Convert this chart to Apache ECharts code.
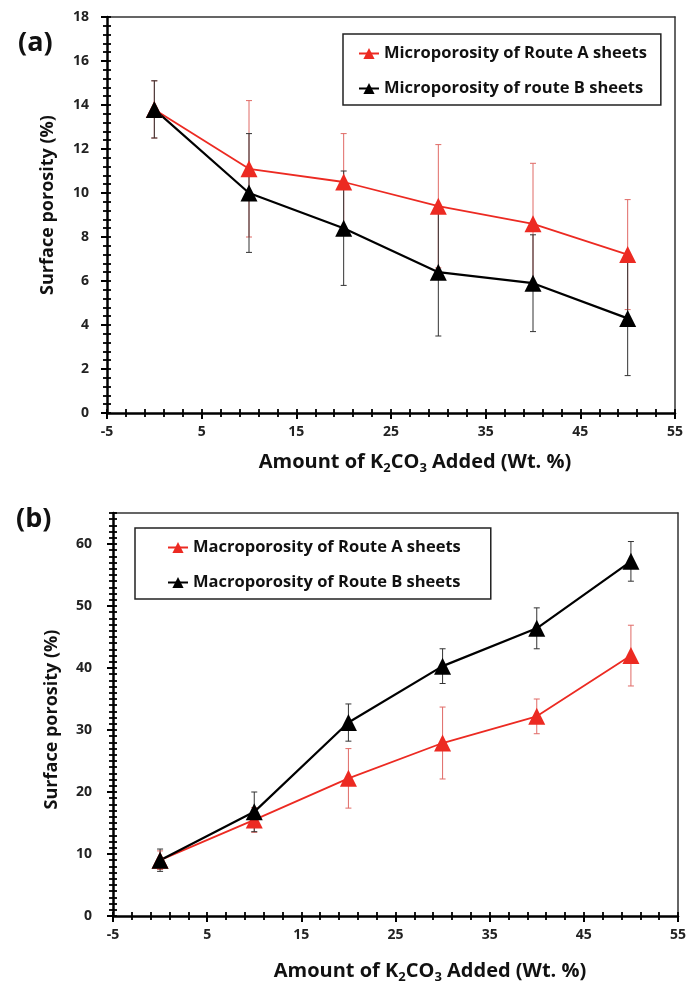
<!DOCTYPE html>
<html>
<head>
<meta charset="utf-8">
<script src="https://cdn.jsdelivr.net/npm/echarts@6/dist/echarts.min.js"></script>
<style>
html,body{margin:0;padding:0;background:#fff;}
#chart{width:686px;height:992px;}
</style>
</head>
<body>
<div id="chart"></div>
<script>
// ---- data ----
const xValues = [0, 10, 20, 30, 40, 50];
const microA = [13.8, 11.1, 10.5, 9.4, 8.6, 7.2];
const microAErr = [1.3, 3.1, 2.2, 2.8, 2.75, 2.5];
const microB = [13.8, 10.0, 8.4, 6.4, 5.9, 4.3];
const microBErr = [1.3, 2.7, 2.6, 2.9, 2.2, 2.6];
const macroA = [9.0, 15.5, 22.2, 27.9, 32.2, 42.0];
const macroAErr = [1.5, 2.0, 4.8, 5.8, 2.8, 4.9];
const macroB = [9.0, 16.8, 31.2, 40.3, 46.4, 57.2];
const macroBErr = [1.8, 3.2, 3.0, 2.8, 3.3, 3.2];
const namesA = ['Microporosity of Route A sheets', 'Microporosity of route B sheets'];
const namesB = ['Macroporosity of Route A sheets', 'Macroporosity of Route B sheets'];
const panelLabels = ['(a)', '(b)'];
const yTitle = 'Surface porosity (%)';

const FONT = 'Open Sans';
const RED = '#ec2a22';
const BLACK = '#000000';

function pts(vals) { return xValues.map((x, i) => [x, vals[i]]); }
function errs(vals, e) { return xValues.map((x, i) => [x, vals[i] - e[i], vals[i] + e[i]]); }

function errSeries(data, color, xi, yi) {
  return {
    type: 'custom', xAxisIndex: xi, yAxisIndex: yi, z: 1, silent: true,
    data: data, encode: { x: 0, y: [1, 2] },
    renderItem: function (params, api) {
      const x = api.value(0), lo = api.value(1), hi = api.value(2);
      const p1 = api.coord([x, hi]), p2 = api.coord([x, lo]);
      const hw = 3;
      const st = { stroke: color, lineWidth: 1 };
      return { type: 'group', children: [
        { type: 'line', shape: { x1: p1[0], y1: p1[1], x2: p2[0], y2: p2[1] }, style: st },
        { type: 'line', shape: { x1: p1[0] - hw, y1: p1[1], x2: p1[0] + hw, y2: p1[1] }, style: st },
        { type: 'line', shape: { x1: p2[0] - hw, y1: p2[1], x2: p2[0] + hw, y2: p2[1] }, style: st }
      ]};
    }
  };
}
function lineSeries(name, vals, color, xi, yi, w) {
  return {
    type: 'line', name: name, xAxisIndex: xi, yAxisIndex: yi, z: 3,
    data: pts(vals), symbol: 'triangle', symbolSize: 17,
    itemStyle: { color: color }, lineStyle: { color: color, width: w },
    emphasis: { disabled: true }, animation: false
  };
}

const xName = '{a|Amount of K}{s|2}{a|CO}{s|3}{a| Added (Wt. %)}';
const xNameRich = {
  a: { fontFamily: FONT, fontSize: 20, fontWeight: 'bold', color: '#111', lineHeight: 26 },
  s: { fontFamily: FONT, fontSize: 13, fontWeight: 'bold', color: '#111', verticalAlign: 'bottom', lineHeight: 26 }
};
const labelStyle = { fontFamily: FONT, fontSize: 14, fontWeight: 'bold', color: '#222' };

function mainX(gi, nameGap, namePadLeft) {
  return {
    type: 'value', gridIndex: gi, min: -5, max: 55, interval: 10, position: 'bottom', z: 5,
    axisLine: { show: true, onZero: false, lineStyle: { color: '#000', width: 2.5 } },
    axisTick: { show: true, inside: false, length: 6, lineStyle: { color: '#000', width: 2 } },
    axisLabel: Object.assign({ margin: 12 }, labelStyle),
    splitLine: { show: false },
    name: xName, nameLocation: 'middle', nameGap: nameGap,
    nameTextStyle: { rich: xNameRich, padding: [0, 0, 0, namePadLeft] }
  };
}
function minorX(gi) {
  return {
    type: 'value', gridIndex: gi, min: -5, max: 55, interval: 2, offset: -4, position: 'bottom', z: 6,
    axisLine: { show: false, onZero: false }, axisLabel: { show: false }, splitLine: { show: false },
    axisTick: { show: true, inside: false, length: 8, lineStyle: { color: '#000', width: 1.8 } }
  };
}
function borderX(gi) {
  return {
    type: 'value', gridIndex: gi, min: -5, max: 55, position: 'top', z: 4,
    axisLine: { show: true, onZero: false, lineStyle: { color: '#333', width: 1.5 } },
    axisTick: { show: false }, axisLabel: { show: false }, splitLine: { show: false }
  };
}
function mainY(gi, max, interval, nameGap, pad, labelMargin, fs) {
  return {
    type: 'value', gridIndex: gi, min: 0, max: max, interval: interval, position: 'left', z: 5,
    axisLine: { show: true, onZero: false, lineStyle: { color: '#000', width: 2.5 } },
    axisTick: { show: true, inside: false, length: 6, lineStyle: { color: '#000', width: 2 } },
    axisLabel: Object.assign({ margin: labelMargin, showMaxLabel: max % interval === 0 }, labelStyle),
    splitLine: { show: false },
    name: yTitle, nameLocation: 'middle', nameGap: nameGap,
    nameTextStyle: { fontFamily: FONT, fontSize: fs, fontWeight: 'bold', color: '#111', padding: pad }
  };
}
function minorY(gi, max, interval) {
  return {
    type: 'value', gridIndex: gi, min: 0, max: max, interval: interval, offset: -4, position: 'left', z: 6,
    axisLine: { show: false, onZero: false }, axisLabel: { show: false }, splitLine: { show: false },
    axisTick: { show: true, inside: false, length: 8, lineStyle: { color: '#000', width: 1.8 } }
  };
}
function borderY(gi, max) {
  return {
    type: 'value', gridIndex: gi, min: 0, max: max, position: 'right', z: 4,
    axisLine: { show: true, onZero: false, lineStyle: { color: '#333', width: 1.5 } },
    axisTick: { show: false }, axisLabel: { show: false }, splitLine: { show: false }
  };
}

const gridA = { left: 107, top: 17, width: 568, height: 396 };
const gridB = { left: 113, top: 513, width: 565, height: 403 };
function g(r) {
  return Object.assign({ show: false, containLabel: false, outerBoundsMode: 'none' }, r);
}

const legendCommon = {
  orient: 'vertical', itemWidth: 20, itemHeight: 14, itemGap: 18,
  borderColor: '#222', borderWidth: 1.5, backgroundColor: '#fff',
  textStyle: { fontFamily: FONT, fontSize: 16.5, fontWeight: 'bold', color: '#111' },
  selectedMode: false
};

const option = {
  animation: false,
  backgroundColor: '#fff',
  title: [
    { text: panelLabels[0], left: 13, top: 25, textStyle: { fontFamily: FONT, fontSize: 27, fontWeight: 'bold', color: '#111' } },
    { text: panelLabels[1], left: 11, top: 501, textStyle: { fontFamily: FONT, fontSize: 27, fontWeight: 'bold', color: '#111' } }
  ],
  grid: [g(gridA), g(gridA), g(gridB), g(gridB)],
  xAxis: [mainX(0, 36, 48), minorX(1), borderX(1), mainX(2, 42, 69), minorX(3), borderX(3)],
  yAxis: [mainY(0, 18, 2, 50, [0, 0, 0, 20], 18, 18), minorY(1, 18, 0.4), borderY(1, 18),
          mainY(2, 65, 10, 52, [0, 10, 0, 0], 21, 18), minorY(3, 65, 1), borderY(3, 65)],
  legend: [
    Object.assign({}, legendCommon, { data: namesA, left: 343, top: 34, padding: [11, 14, 8, 15] }),
    Object.assign({}, legendCommon, { data: namesB, left: 135, top: 528, padding: [11, 30, 8, 32] })
  ],
  series: [
    errSeries(errs(microA, microAErr), '#e06a66', 0, 0),
    errSeries(errs(microB, microBErr), '#333333', 0, 0),
    lineSeries(namesA[0], microA, RED, 0, 0, 1.8),
    lineSeries(namesA[1], microB, BLACK, 0, 0, 2.2),
    errSeries(errs(macroA, macroAErr), '#e06a66', 3, 3),
    errSeries(errs(macroB, macroBErr), '#333333', 3, 3),
    lineSeries(namesB[0], macroA, RED, 3, 3, 1.8),
    lineSeries(namesB[1], macroB, BLACK, 3, 3, 2.2),
    // empty placeholders so the overlay grids keep their axes
    { type: 'line', xAxisIndex: 1, yAxisIndex: 1, data: [], silent: true },
    { type: 'line', xAxisIndex: 4, yAxisIndex: 4, data: [], silent: true }
  ]
};

const chart = echarts.init(document.getElementById('chart'), null, { renderer: 'canvas' });
chart.setOption(option);
</script>
</body>
</html>
